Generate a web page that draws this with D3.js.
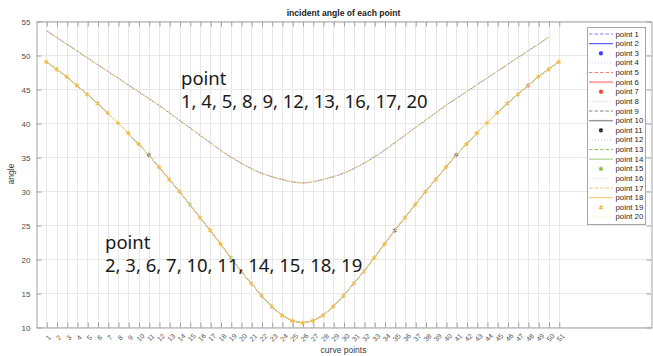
<!DOCTYPE html>
<html>
<head>
<meta charset="utf-8">
<script src="https://cdn.jsdelivr.net/npm/d3@7"></script>
<style>
  body { margin: 0; background: #fff; }
  svg { display: block; font-family: "Liberation Sans", Arial, sans-serif; }
</style>
</head>
<body>
<svg id="chart" width="653" height="356"></svg>
<script>
// curve point indices (x axis categories)
const curvePoints = [1, 2, 3, 4, 5, 6, 7, 8, 9, 10, 11, 12, 13, 14, 15, 16, 17, 18, 19, 20,
  21, 22, 23, 24, 25, 26, 27, 28, 29, 30, 31, 32, 33, 34, 35, 36, 37, 38, 39, 40,
  41, 42, 43, 44, 45, 46, 47, 48, 49, 50, 51];

// upper curve: points 1, 4, 5, 8, 9, 12, 13, 16, 17, 20
const upperAngle = [53.6, 52.6, 51.6, 50.6, 49.6, 48.6, 47.6, 46.6, 45.6, 44.6, 43.6, 42.6, 41.5,
  40.4, 39.3, 38.2, 37.1, 36.0, 35.0, 34.1, 33.3, 32.6, 32.1, 31.7, 31.35, 31.2,
  31.35, 31.7, 32.1, 32.6, 33.3, 34.1, 35.0, 36.0, 37.1, 38.2, 39.3, 40.4, 41.5,
  42.6, 43.6, 44.6, 45.6, 46.6, 47.6, 48.6, 49.6, 50.6, 51.6, 52.6, 53.6];

// lower curve: points 2, 3, 6, 7, 10, 11, 14, 15, 18, 19
const lowerAngle = [49.0, 47.9, 46.8, 45.5, 44.2, 42.9, 41.5, 40.0, 38.5, 36.9, 35.3, 33.5, 31.7,
  29.9, 28.0, 26.1, 24.2, 22.2, 20.2, 18.2, 16.4, 14.6, 13.0, 11.7, 10.9, 10.6,
  10.9, 11.7, 13.0, 14.6, 16.4, 18.2, 20.2, 22.2, 24.2, 26.1, 28.0, 29.9, 31.7,
  33.5, 35.3, 36.9, 38.5, 40.0, 41.5, 42.9, 44.2, 45.5, 46.8, 47.9, 49.0];

const seriesNames = ["point 1", "point 2", "point 3", "point 4", "point 5", "point 6", "point 7",
  "point 8", "point 9", "point 10", "point 11", "point 12", "point 13", "point 14", "point 15",
  "point 16", "point 17", "point 18", "point 19", "point 20"];

// which curve points carry a visible marker for each marker series
const markerPoints = {
  "point 3": [],
  "point 7": [48],
  "point 11": [11, 35, 41],
  "point 15": [15, 19],
  "point 19": [1, 2, 3, 4, 5, 6, 7, 8, 9, 10, 12, 13, 14, 16, 17, 18, 20, 21, 22, 23, 24, 25, 26,
    27, 28, 29, 30, 31, 32, 33, 34, 36, 37, 38, 39, 40, 42, 43, 44, 45, 46, 47, 49, 50, 51]
};

const yTicks = [10, 15, 20, 25, 30, 35, 40, 45, 50, 55];

// styles: one colour family per group of four series
const families = [
  { dash: "#8080ff", solid: "#5a5aff", mark: "#3a3aff", dot: "#c4c4ff" },
  { dash: "#ff7a7a", solid: "#ffa3a3", mark: "#ff3a3a", dot: "#ffc4c4" },
  { dash: "#808080", solid: "#979797", mark: "#2e2e2e", dot: "#c6c6c6" },
  { dash: "#8cc363", solid: "#a9d68a", mark: "#7fbf4f", dot: "#d9ecc9" },
  { dash: "#f4c066", solid: "#f7cd78", mark: "#f2bd4a", dot: "#f9e2b4" }
];
function styleOf(i) {
  const f = families[Math.floor(i / 4)];
  const kind = ["dash", "solid", "mark", "dot"][i % 4];
  return {
    kind,
    family: Math.floor(i / 4),
    color: f[kind],
    width: kind === "solid" ? (i === 5 ? 2 : i === 9 ? 1.5 : 1.2) : 1,
    dasharray: kind === "dash" ? "3,9" : kind === "dot" ? "1,2" : null
  };
}

const svg = d3.select("#chart");
const plotLeft = 36, plotRight = 651, plotTop = 21, plotBottom = 327;

const x = d3.scaleLinear().domain([0, 60]).range([plotLeft, plotRight]);
const y = d3.scaleLinear().domain([10, 55]).range([plotBottom, plotTop]);

// grid
const grid = svg.append("g");
grid.selectAll("line.v")
  .data(curvePoints)
  .enter().append("line")
  .attr("x1", d => Math.round(x(d)) + 0.5).attr("x2", d => Math.round(x(d)) + 0.5)
  .attr("y1", plotTop).attr("y2", plotBottom)
  .attr("stroke", "#e8e8e8");
grid.selectAll("line.h")
  .data(yTicks)
  .enter().append("line")
  .attr("x1", plotLeft).attr("x2", plotRight)
  .attr("y1", d => Math.round(y(d)) + 0.5).attr("y2", d => Math.round(y(d)) + 0.5)
  .attr("stroke", "#e8e8e8");

// axes (ticks pointing inward)
const axisColor = "#a3a3a3";
const xAxis = svg.append("g")
  .attr("transform", `translate(0.5,${plotBottom + 0.5})`)
  .call(d3.axisBottom(x).tickValues(curvePoints).tickSize(-5).tickSizeOuter(0).tickPadding(0));
xAxis.selectAll("text").remove();
xAxis.selectAll(".tick")
  .append("text")
  .attr("transform", "translate(1,10) rotate(-45)")
  .attr("text-anchor", "middle")
  .attr("dominant-baseline", "central")
  .attr("fill", "#555")
  .style("font-size", "7px")
  .text(d => d);

svg.append("g")
  .attr("transform", `translate(0.5,${plotTop + 0.5})`)
  .call(d3.axisTop(x).tickValues(curvePoints).tickSize(-5).tickSizeOuter(0).tickFormat(""));

svg.append("g")
  .attr("transform", `translate(${plotLeft + 0.5},0.5)`)
  .call(d3.axisLeft(y).tickValues(yTicks).tickSize(-5).tickSizeOuter(0).tickPadding(6))
  .selectAll("text")
  .attr("fill", "#4d4d4d")
  .style("font-size", "8px");

svg.append("g")
  .attr("transform", `translate(${plotRight + 0.5},0.5)`)
  .call(d3.axisRight(y).tickValues(yTicks).tickSize(-5).tickSizeOuter(0).tickFormat(""));

svg.selectAll(".domain, .tick line").attr("stroke", axisColor);

// series
const line = d3.line().curve(d3.curveMonotoneX).x(d => x(d.x)).y(d => y(d.y));
const lineLin = d3.line().x(d => x(d.x)).y(d => y(d.y));
const marker = d3.symbol().type(d3.symbolAsterisk).size(14);

const plot = svg.append("g");
seriesNames.forEach((name, i) => {
  const st = styleOf(i);
  const upper = st.kind === "dash" || st.kind === "dot";
  const values = upper ? upperAngle : lowerAngle;
  let pts = curvePoints.map((p, k) => ({ x: p, y: values[k] }));
  if (upper && i !== 19) pts = pts.slice(0, 50);
  if (st.kind === "mark") {
    const idx = markerPoints[name];
    plot.append("g").selectAll("path")
      .data(pts.filter(d => idx.includes(d.x)))
      .enter().append("path")
      .attr("d", marker)
      .attr("transform", d => `translate(${x(d.x)},${y(d.y)})`)
      .attr("fill", "none")
      .attr("stroke", st.color)
      .attr("stroke-opacity", i === 18 ? 1 : 0.6)
      .attr("stroke-width", 1.1);
  } else {
    plot.append("path")
      .datum(pts)
      .attr("d", upper ? line : lineLin)
      .attr("fill", "none")
      .attr("stroke", st.color)
      .attr("stroke-width", 1)
      .attr("stroke-dasharray", st.dasharray)
      .attr("stroke-dashoffset", st.kind === "dash" ? -st.family * 2.4 : 0);
  }
});

// annotations
const ann = [
  { x: 181, y: 85, lines: ["point", "1, 4, 5, 8, 9, 12, 13, 16, 17, 20"] },
  { x: 105, y: 248.5, lines: ["point", "2, 3, 6, 7, 10, 11, 14, 15, 18, 19"] }
];
ann.forEach(a => {
  const t = svg.append("text")
    .attr("x", a.x).attr("y", a.y)
    .attr("fill", "#1a1a1a")
    .style("font-family", "'Noto Sans', 'Open Sans', sans-serif")
    .style("font-size", "18.5px");
  a.lines.forEach((l, k) => {
    t.append("tspan").attr("x", a.x).attr("dy", k === 0 ? 0 : 23.3).text(l);
  });
});

// title and axis labels
svg.append("text")
  .attr("x", (plotLeft + plotRight) / 2).attr("y", 15.5)
  .attr("text-anchor", "middle")
  .attr("fill", "#222")
  .style("font-size", "8.6px").style("font-weight", "bold")
  .text("incident angle of each point");

svg.append("text")
  .attr("x", (plotLeft + plotRight) / 2).attr("y", 353)
  .attr("text-anchor", "middle")
  .attr("fill", "#3a3a3a")
  .style("font-size", "8.5px")
  .text("curve points");

svg.append("text")
  .attr("transform", `translate(13.5,${(plotTop + plotBottom) / 2}) rotate(-90)`)
  .attr("text-anchor", "middle")
  .attr("fill", "#3a3a3a")
  .style("font-size", "8.5px")
  .text("angle");

// legend
const lg = svg.append("g");
lg.append("rect")
  .attr("x", 587.5).attr("y", 27.5).attr("width", 58).attr("height", 197)
  .attr("fill", "#fff").attr("stroke", "#a6a6a6");
seriesNames.forEach((name, i) => {
  const st = styleOf(i);
  const ry = 34 + i * 9.63;
  if (st.kind === "mark") {
    lg.append("path")
      .attr("d", marker)
      .attr("transform", `translate(601,${ry})`)
      .attr("fill", "none")
      .attr("stroke", st.color)
      .attr("stroke-width", 1.3);
  } else {
    lg.append("line")
      .attr("x1", 589).attr("x2", 613)
      .attr("y1", ry).attr("y2", ry)
      .attr("stroke", st.color)
      .attr("stroke-width", st.width)
      .attr("stroke-dasharray", st.kind === "dash" ? "3.5,2" : st.dasharray);
  }
  lg.append("text")
    .attr("x", 615.5).attr("y", ry)
    .attr("dominant-baseline", "central")
    .attr("fill", "#262626")
    .style("font-size", "7.8px")
    .text(name);
});
</script>
</body>
</html>
